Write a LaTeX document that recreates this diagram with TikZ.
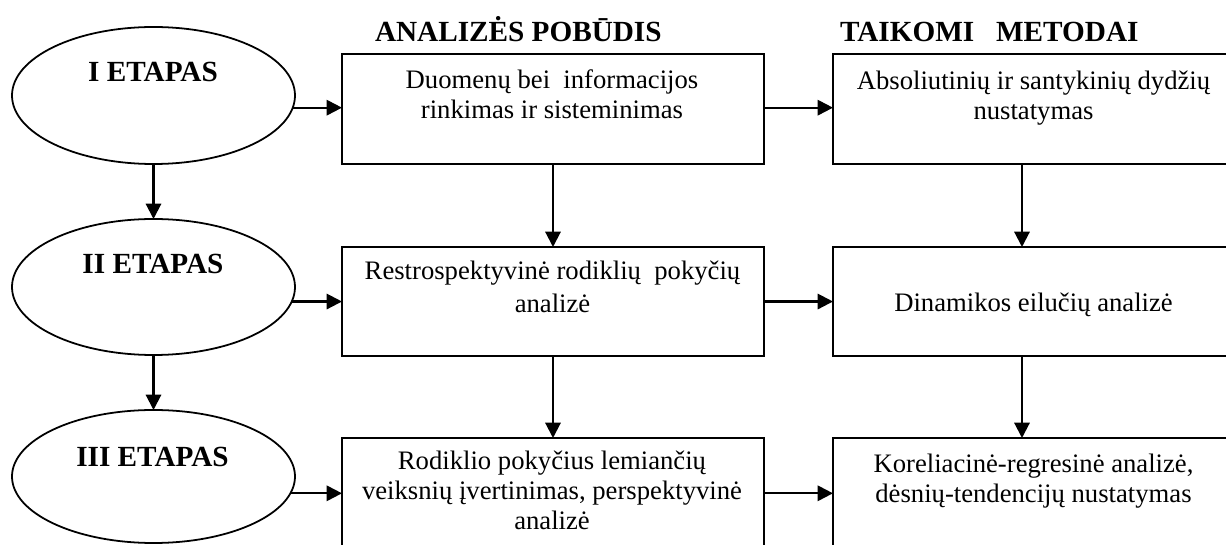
\documentclass[tikz,border=0pt]{standalone}
\usepackage{fontspec}
\setmainfont{Liberation Serif}
\usetikzlibrary{shapes.geometric,arrows.meta}
\begin{document}
\begin{tikzpicture}[x=0.45pt,y=-0.45pt,
  every node/.style={inner sep=0pt, outer sep=0pt},
  midbox/.style={draw, rectangle, line width=0.95pt, minimum width=422*0.45pt},
  rightbox/.style={draw, rectangle, line width=0.95pt, minimum width=401*0.45pt},
  stage/.style={draw, ellipse, line width=0.8pt, minimum width=283*0.45pt},
  arr/.style={-{Triangle[length=6.9pt,width=6.9pt]}, line width=0.95pt},
  btext/.style={align=center, anchor=base, font=\fontsize{12pt}{13.5pt}\selectfont},
  head/.style={font=\fontsize{13.15pt}{15pt}\selectfont\bfseries}
]
\useasboundingbox (0,0) rectangle (1226,545);
\clip (0,0) rectangle (1226,545);
\fill[white] (0,0) rectangle (1226,545);

% headers
\node[head, anchor=base west] (h1) at (375,42) {ANALIZĖS POBŪDIS};
\node[head, anchor=base west] (h2) at (840,42) {TAIKOMI\ \ \ METODAI};

% stages
\node[stage, minimum height=137*0.45pt] (e1) at (153.5,95.5) {};
\node[stage, minimum height=136*0.45pt] (e2) at (153.5,287) {};
\node[stage, minimum height=133*0.45pt] (e3) at (153.5,476.5) {};
\node[head, anchor=base] (e1t) at (153,82) {I ETAPAS};
\node[head, anchor=base] (e2t) at (153,274) {II ETAPAS};
\node[head, anchor=base] (e3t) at (152.5,467) {III ETAPAS};

% middle column
\node[midbox, minimum height=110*0.45pt] (b1) at (553,109) {};
\node[midbox, minimum height=109*0.45pt] (b2) at (553,301.5) {};
\node[midbox, minimum height=124*0.45pt] (b3) at (553,500) {};
\node[btext] (b1t) at (552,119) {Duomenų bei\ \ informacijos\\rinkimas ir sisteminimas};
\node[btext] (b2t) at (552.5,313) {Restrospektyvinė rodiklių\ \ pokyčių\\[1.35pt]analizė};
\node[btext] (b3t) at (552,530) {Rodiklio pokyčius lemiančių\\veiksnių įvertinimas, perspektyvinė\\analizė};

% right column
\node[rightbox, minimum height=110*0.45pt] (r1) at (1033.5,109) {};
\node[rightbox, minimum height=109*0.45pt] (r2) at (1033.5,301.5) {};
\node[rightbox, minimum height=124*0.45pt] (r3) at (1033.5,500) {};
\node[btext] (r1t) at (1033.5,120) {Absoliutinių ir santykinių dydžių\\nustatymas};
\node[btext] (r2t) at (1033.5,312) {Dinamikos eilučių analizė};
\node[btext] (r3t) at (1033.5,503) {Koreliacinė-regresinė analizė,\\dėsnių-tendencijų nustatymas};
\coordinate (rc) at (1022,0);

% horizontal connectors
\draw[arr] (e1.-5.6) -- (b1.west |- e1.-5.6);
\draw[arr] (e2.-6.2) -- (b2.west |- e2.-6.2);
\draw[arr] (e3.-7.3) -- (b3.west |- e3.-7.3);
\draw[arr] (b1.east |- e1.-5.6) -- (r1.west |- e1.-5.6);
\draw[arr] (b2.east |- e2.-6.2) -- (r2.west |- e2.-6.2);
\draw[arr] (b3.east |- e3.-7.3) -- (r3.west |- e3.-7.3);

% vertical connectors
\draw[arr] (e1.south) -- (e2.north);
\draw[arr] (e2.south) -- (e3.north);
\draw[arr] (b1.south) -- (b2.north);
\draw[arr] (b2.south) -- (b3.north);
\draw[arr] (r1.south -| rc) -- (r2.north -| rc);
\draw[arr] (r2.south -| rc) -- (r3.north -| rc);
\end{tikzpicture}
\end{document}
